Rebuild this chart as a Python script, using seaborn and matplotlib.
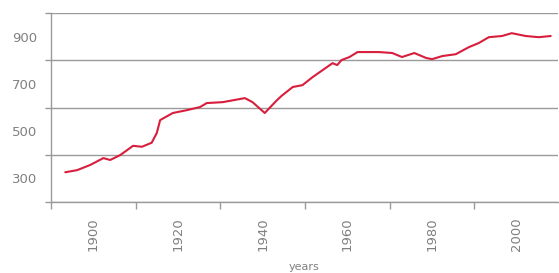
import matplotlib
matplotlib.use("Agg")
import matplotlib.pyplot as plt
from matplotlib.ticker import FixedLocator
import seaborn as sns
import pandas as pd

# -----------------------------
# Data
# -----------------------------
years = [1893.4, 1896.2, 1899.3, 1902.4, 1904.0, 1906.4, 1909.4, 1911.5, 1913.8,
         1915.0, 1915.8, 1918.8, 1922.1, 1925.2, 1926.8, 1930.6, 1935.8, 1937.6,
         1940.5, 1943.3, 1944.5, 1947.1, 1949.4, 1951.8, 1956.5, 1957.6, 1958.6,
         1960.5, 1962.4, 1967.5, 1970.6, 1972.9, 1975.8, 1978.6, 1980.0, 1982.4,
         1985.6, 1988.7, 1991.0, 1993.4, 1996.5, 1998.8, 2002.1, 2005.2, 2008.0]
values = [326, 335, 357, 386, 378, 399, 438, 434, 451,
          492, 547, 577, 589, 602, 619, 623, 640, 623,
          577, 630, 650, 687, 695, 729, 788, 780, 801,
          814, 835, 835, 831, 814, 831, 810, 805, 818,
          826, 856, 873, 898, 903, 915, 903, 898, 903]

ytick_labels = [300, 500, 700, 900]
ygrid = [200, 400, 600, 800, 1000]
xtick_labels = [1900, 1920, 1940, 1960, 1980, 2000]
xgrid = [1890, 1910, 1930, 1950, 1970, 1990, 2010]

df = pd.DataFrame({"year": years, "value": values})

sns.set_style("white")
fig = plt.figure(figsize=(5.59, 2.73), dpi=100)
ax = fig.add_axes([0.091, 0.26, 0.907, 0.692])

sns.lineplot(data=df, x="year", y="value", color="#d81e3c", linewidth=1.5, ax=ax)

grey = "#9a9a9a"
txt = "#808080"

ax.set_xlim(1890, 2009.7)
ax.set_ylim(200, 1000)

ax.yaxis.set_major_locator(FixedLocator(ytick_labels))
ax.yaxis.set_minor_locator(FixedLocator(ygrid))
ax.xaxis.set_major_locator(FixedLocator(xtick_labels))
ax.xaxis.set_minor_locator(FixedLocator(xgrid))

ax.grid(False)
ax.yaxis.grid(True, which="minor", color=grey, linewidth=1)

ax.tick_params(axis="both", which="major", length=0, labelsize=9.5, colors=txt)
ax.tick_params(axis="y", which="major", pad=10)
ax.tick_params(axis="x", which="major", pad=11, labelrotation=90)
ax.tick_params(axis="x", which="minor", bottom=True, length=5, width=1, color=grey, direction="out")
ax.tick_params(axis="y", which="minor", left=True, length=4, width=1, color=grey, direction="out")

for side in ["top", "right"]:
    ax.spines[side].set_visible(False)
for side in ["left", "bottom"]:
    ax.spines[side].set_color(grey)
    ax.spines[side].set_linewidth(1)

ax.set_ylabel("")
ax.set_xlabel("years", fontsize=8, color=txt, labelpad=8)

fig.savefig("out.png", dpi=100)
